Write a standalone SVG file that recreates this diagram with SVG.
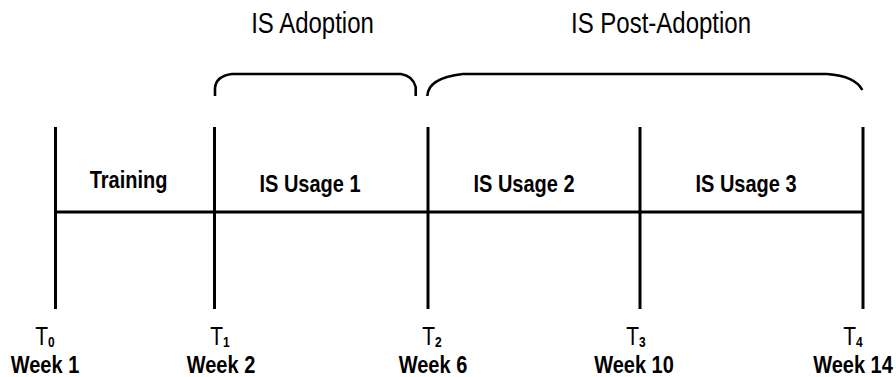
<svg xmlns="http://www.w3.org/2000/svg" width="896" height="377" viewBox="0 0 896 377">
<style>
  .bg{fill:#ffffff}
  .ln{stroke:#000;stroke-width:3;fill:none}
  .br{stroke:#000;stroke-width:2.6;fill:none;stroke-linecap:butt}
  text{font-family:"Liberation Sans",Arial,Helvetica,sans-serif;fill:#000;text-anchor:middle}
  .title{font-size:24px}
  .lab{font-size:20px;font-weight:bold}
  .t{font-size:21px}
  .sub{font-size:12px;font-weight:bold}
  .wk{font-size:20px;font-weight:bold}
</style>
<rect class="bg" x="0" y="0" width="896" height="377"/>
<g id="connectors">
  <line class="ln" x1="55" y1="212" x2="863" y2="212"/>
  <line class="ln" x1="55.5" y1="127" x2="55.5" y2="309"/>
  <line class="ln" x1="214.5" y1="127" x2="214.5" y2="309"/>
  <line class="ln" x1="428" y1="127" x2="428" y2="309"/>
  <line class="ln" x1="640" y1="127" x2="640" y2="309"/>
  <line class="ln" x1="863" y1="127" x2="863" y2="309"/>
</g>
<g id="brace-adoption">
  <path class="br" d="M215 96 L215 88 Q216 76 232 74 L401 74 Q413 76 415.7 87 L415.7 96"/>
  <text class="title" transform="translate(312.5,33) scale(1,1.2)">IS Adoption</text>
</g>
<g id="brace-post-adoption">
  <path class="br" d="M427.3 96 Q428 78 462.7 74 L827 74 Q855 76 862.3 90"/>
  <text class="title" transform="translate(661,33) scale(1,1.2)">IS Post-Adoption</text>
</g>
<g id="training">
  <text class="lab" transform="translate(128.5,188) scale(1,1.2)">Training</text>
</g>
<g id="usage1">
  <text class="lab" transform="translate(310,192) scale(1,1.2)">IS Usage 1</text>
</g>
<g id="usage2">
  <text class="lab" transform="translate(524,192) scale(1,1.2)">IS Usage 2</text>
</g>
<g id="usage3">
  <text class="lab" transform="translate(746,192) scale(1,1.2)">IS Usage 3</text>
</g>
<g id="t0">
  <text class="t" transform="translate(45,345) scale(1,1.2)">T<tspan class="sub" dy="2">0</tspan></text>
  <text class="wk" transform="translate(45,373) scale(1,1.2)">Week 1</text>
</g>
<g id="t1">
  <text class="t" transform="translate(220,345) scale(1,1.2)">T<tspan class="sub" dy="2">1</tspan></text>
  <text class="wk" transform="translate(221,373) scale(1,1.2)">Week 2</text>
</g>
<g id="t2">
  <text class="t" transform="translate(432,345) scale(1,1.2)">T<tspan class="sub" dy="2">2</tspan></text>
  <text class="wk" transform="translate(433,373) scale(1,1.2)">Week 6</text>
</g>
<g id="t3">
  <text class="t" transform="translate(636,345) scale(1,1.2)">T<tspan class="sub" dy="2">3</tspan></text>
  <text class="wk" transform="translate(634,373) scale(1,1.2)">Week 10</text>
</g>
<g id="t4">
  <text class="t" transform="translate(853,345) scale(1,1.2)">T<tspan class="sub" dy="2">4</tspan></text>
  <text class="wk" transform="translate(853,373) scale(1,1.2)">Week 14</text>
</g>
</svg>
